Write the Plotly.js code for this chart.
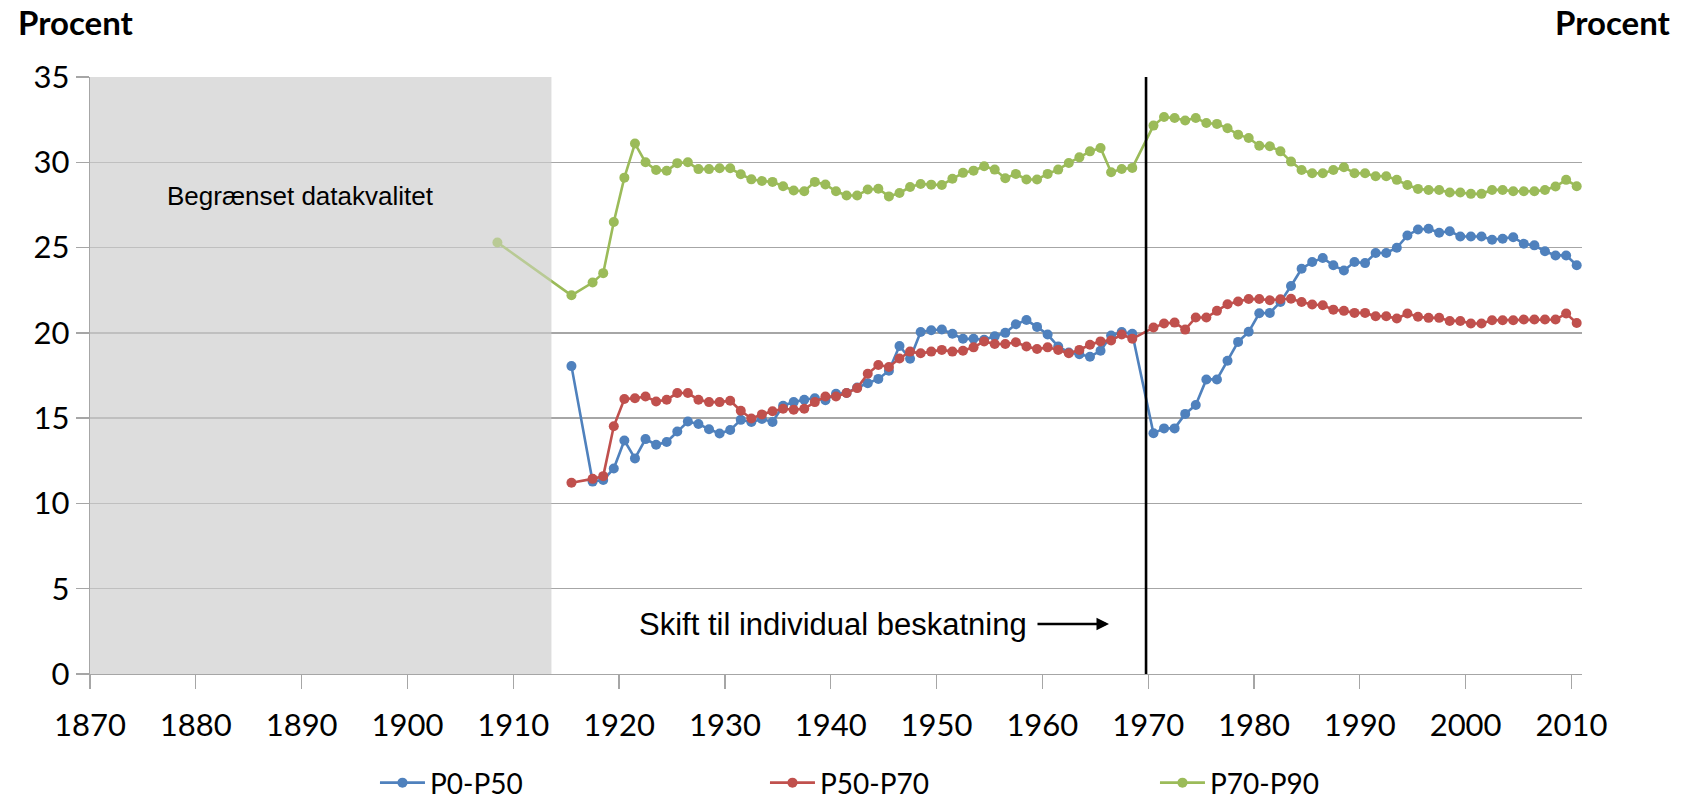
<!DOCTYPE html>
<html>
<head>
<meta charset="utf-8">
<script src="https://cdn.plot.ly/plotly-3.0.1.min.js"></script>
<style>
  html, body { margin: 0; padding: 0; background: #ffffff; }
  #chart { width: 1688px; height: 804px; }
</style>
</head>
<body>
<div id="chart"></div>
<script>
// ---- Data ----
const years = [1908, 1915,
  1917, 1918, 1919, 1920, 1921, 1922, 1923, 1924, 1925, 1926, 1927, 1928, 1929, 1930,
  1931, 1932, 1933, 1934, 1935, 1936, 1937, 1938, 1939, 1940,
  1941, 1942, 1943, 1944, 1945, 1946, 1947, 1948, 1949, 1950,
  1951, 1952, 1953, 1954, 1955, 1956, 1957, 1958, 1959, 1960,
  1961, 1962, 1963, 1964, 1965, 1966, 1967, 1968,
  1970, 1971, 1972, 1973, 1974, 1975, 1976, 1977, 1978, 1979, 1980,
  1981, 1982, 1983, 1984, 1985, 1986, 1987, 1988, 1989, 1990,
  1991, 1992, 1993, 1994, 1995, 1996, 1997, 1998, 1999, 2000,
  2001, 2002, 2003, 2004, 2005, 2006, 2007, 2008, 2009, 2010];

const p0p50 = [null, 18.05,
  11.28, 11.37, 12.05, 13.69, 12.64, 13.77, 13.44, 13.6, 14.22, 14.8, 14.66, 14.35, 14.1, 14.3,
  14.9, 14.77, 14.95, 14.77, 15.73, 15.94, 16.08, 16.17, 16.05, 16.43,
  16.47, 16.8, 17.05, 17.3, 17.78, 19.23, 18.48, 20.05, 20.15, 20.2,
  19.95, 19.65, 19.65, 19.6, 19.8, 20.0, 20.5, 20.75, 20.35, 19.9,
  19.2, 18.85, 18.75, 18.6, 18.95, 19.85, 20.05, 19.95,
  14.11, 14.4, 14.4, 15.25, 15.77, 17.27, 17.27, 18.36, 19.47, 20.06, 21.15,
  21.17, 21.81, 22.75, 23.76, 24.15, 24.39, 23.96, 23.66, 24.15, 24.09,
  24.68, 24.68, 24.99, 25.71, 26.06, 26.1, 25.87, 25.96, 25.65, 25.65,
  25.65, 25.46, 25.52, 25.61, 25.22, 25.13, 24.78, 24.54, 24.54, 23.96];

const p50p70 = [null, 11.21,
  11.44, 11.6, 14.52, 16.12, 16.17, 16.27, 15.98, 16.08, 16.47, 16.47, 16.08, 15.94, 15.94, 16.02,
  15.43, 14.98, 15.22, 15.4, 15.55, 15.49, 15.55, 15.94, 16.27, 16.27,
  16.47, 16.76, 17.6, 18.12, 18.0, 18.5, 18.9, 18.8, 18.9, 19.0,
  18.9, 18.95, 19.15, 19.5, 19.35, 19.35, 19.45, 19.2, 19.05, 19.15,
  19.0, 18.8, 19.0, 19.3, 19.5, 19.55, 19.9, 19.65,
  20.31, 20.55, 20.6, 20.19, 20.9, 20.9, 21.29, 21.68, 21.84, 21.98, 21.98,
  21.91, 21.97, 22.0, 21.81, 21.66, 21.62, 21.36, 21.29, 21.17, 21.17,
  20.97, 20.97, 20.84, 21.13, 20.94, 20.88, 20.88, 20.7, 20.7, 20.55,
  20.55, 20.74, 20.74, 20.74, 20.78, 20.78, 20.78, 20.78, 21.13, 20.58];

const p70p90 = [25.3, 22.2,
  22.95, 23.5, 26.5, 29.1, 31.1, 30.0, 29.55, 29.5, 29.95, 30.0, 29.6, 29.6, 29.65, 29.65,
  29.3, 29.0, 28.9, 28.85, 28.6, 28.35, 28.3, 28.85, 28.7, 28.3,
  28.05, 28.05, 28.4, 28.45, 28.0, 28.2, 28.55, 28.73, 28.69, 28.67,
  29.03, 29.38, 29.51, 29.77, 29.57, 29.06, 29.32, 28.99, 28.99, 29.32,
  29.57, 29.96, 30.29, 30.64, 30.84, 29.42, 29.61, 29.67,
  32.15, 32.65, 32.6, 32.45, 32.6, 32.3, 32.25, 32.0, 31.62, 31.42, 30.97,
  30.94, 30.64, 30.04, 29.55, 29.36, 29.36, 29.55, 29.71, 29.36, 29.36,
  29.18, 29.18, 28.97, 28.67, 28.44, 28.38, 28.38, 28.23, 28.23, 28.15,
  28.15, 28.38, 28.38, 28.3, 28.3, 28.3, 28.38, 28.58, 28.97, 28.6];

const seriesNames = ["P0-P50", "P50-P70", "P70-P90"];
const seriesColors = ["#4F81BD", "#C0504D", "#9BBB59"];
const tickLabels = ["1870", "1880", "1890", "1900", "1910", "1920", "1930", "1940",
  "1950", "1960", "1970", "1980", "1990", "2000", "2010"];
const yTicks = [0, 5, 10, 15, 20, 25, 30, 35];

const limitedDataEnd = 1913.1;   // end of "Begrænset datakvalitet" band
const reformYear = 1969.3;       // "Skift til individual beskatning"

// ---- Build ----
const allSeries = [p0p50, p50p70, p70p90];
const traces = allSeries.map((vals, i) => ({
  type: "scatter",
  mode: "lines+markers",
  name: seriesNames[i],
  x: years,
  y: vals,
  connectgaps: true,
  line: { color: seriesColors[i], width: 2.6 },
  marker: { color: seriesColors[i], size: 10, symbol: "circle" },
  hoverinfo: "x+y+name"
}));

const gridCol = "#a6a6a6";
const tickFont = { family: "Lato, 'Open Sans', sans-serif", size: 31, color: "#000" };
const annFamily = "'Liberation Sans', Arial, sans-serif";

const layout = {
  width: 1688,
  height: 804,
  margin: { l: 90, r: 106, t: 77, b: 130, pad: 0, autoexpand: false },
  paper_bgcolor: "#ffffff",
  plot_bgcolor: "#ffffff",
  showlegend: true,
  xaxis: {
    range: [1869.5, 2010.5],
    tickmode: "array",
    tickvals: tickLabels.map(t => Number(t) - 0.5),
    ticktext: tickLabels,
    ticks: "outside",
    ticklen: 14,
    tickwidth: 1.3,
    tickcolor: gridCol,
    ticklabelstandoff: 9,
    showline: true,
    linecolor: gridCol,
    linewidth: 1.3,
    showgrid: false,
    zeroline: false,
    tickfont: tickFont,
    fixedrange: true
  },
  yaxis: {
    range: [0, 35],
    tickmode: "array",
    tickvals: yTicks,
    ticks: "outside",
    ticklen: 13,
    tickwidth: 1.3,
    tickcolor: gridCol,
    showline: true,
    linecolor: gridCol,
    linewidth: 1.3,
    showgrid: true,
    gridcolor: gridCol,
    gridwidth: 1.3,
    zeroline: false,
    tickfont: tickFont,
    fixedrange: true
  },
  yaxis2: {
    overlaying: "y",
    side: "right",
    range: [0, 35],
    tickmode: "array",
    tickvals: yTicks,
    ticks: "outside",
    ticklen: 12,
    tickwidth: 1.3,
    tickcolor: gridCol,
    showline: true,
    linecolor: gridCol,
    linewidth: 1.3,
    showgrid: false,
    zeroline: false,
    tickfont: tickFont,
    ticklabelstandoff: 32,
    fixedrange: true
  },
  legend: {
    orientation: "h",
    x: 0.191,
    xanchor: "left",
    y: -0.1825,
    yanchor: "middle",
    font: { family: "Lato, 'Open Sans', sans-serif", size: 28, color: "#000" },
    itemwidth: 45,
    entrywidth: 330,
    entrywidthmode: "pixels",
    bgcolor: "rgba(0,0,0,0)",
    traceorder: "normal"
  },
  shapes: [
    { type: "rect", xref: "x", yref: "y", x0: 1869.5, x1: limitedDataEnd, y0: 0, y1: 35,
      fillcolor: "#dddddd", line: { width: 0 }, layer: "below" },
    { type: "rect", xref: "x", yref: "y", x0: 1869.5, x1: limitedDataEnd, y0: 0, y1: 35,
      fillcolor: "rgba(221,221,221,0.45)", line: { width: 0 }, layer: "above" },
    { type: "line", xref: "x", yref: "y", x0: reformYear, x1: reformYear, y0: 0, y1: 35,
      line: { color: "#000000", width: 2.6 }, layer: "above" }
  ],
  annotations: [
    { xref: "x", yref: "y", x: 1889.35, y: 28.0, text: "Begrænset datakvalitet",
      showarrow: false, font: { family: annFamily, size: 26, color: "#000" },
      xanchor: "center", yanchor: "middle" },
    { xref: "x", yref: "y", x: 1958.2, y: 2.93, text: "Skift til individual beskatning",
      showarrow: false, font: { family: annFamily, size: 31, color: "#000" },
      xanchor: "right", yanchor: "middle" },
    { xref: "x", yref: "y", x: 1965.8, y: 2.93, ax: 1958.9, ay: 2.93, axref: "x", ayref: "y",
      text: "", showarrow: true, arrowhead: 2, arrowsize: 1, arrowwidth: 2.5, arrowcolor: "#000" },
    { xref: "paper", yref: "paper", x: -0.0496, y: 1.0924, xanchor: "left", yanchor: "middle",
      text: "<b>Procent</b>", showarrow: false,
      font: { family: "Lato, 'Open Sans', sans-serif", size: 33, color: "#000" } },
    { xref: "paper", yref: "paper", x: 1.0612, y: 1.0924, xanchor: "right", yanchor: "middle",
      text: "<b>Procent</b>", showarrow: false,
      font: { family: "Lato, 'Open Sans', sans-serif", size: 33, color: "#000" } }
  ]
};

Plotly.newPlot("chart", traces, layout, { displayModeBar: false, staticPlot: true });
</script>
</body>
</html>
